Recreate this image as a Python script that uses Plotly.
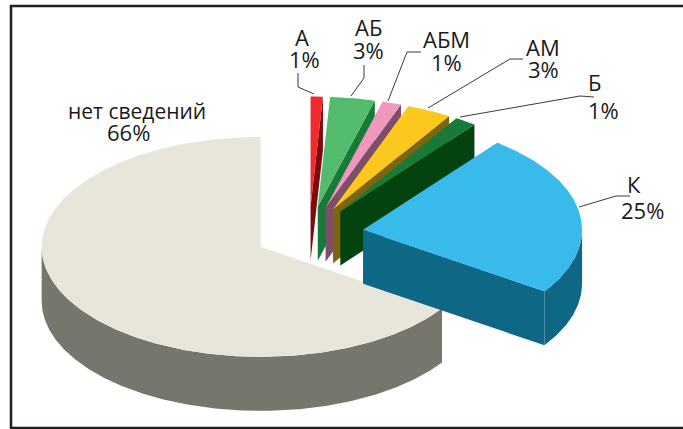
import numpy as np
import plotly.graph_objects as go

categories = ["А", "АБ", "АБМ", "АМ", "Б", "К", "нет сведений"]
values = [0.9, 3.3, 1.4, 3.3, 1.6, 24.0, 65.6]
percent_labels = ["1%", "3%", "1%", "3%", "1%", "25%", "66%"]

top_colors = ["#f02a2e", "#53bb6c", "#ef97bc", "#fcc81e", "#177a38", "#38bbea", "#e8e6da"]
side_colors = ["#7d0a0e", "#177a38", "#7e4d68", "#7d650d", "#04420f", "#0e6785", "#76766c"]

# pie geometry in page pixels
CX, CY = 309.0, 234.0
RX, RY = 219.0, 110.0
DEPTH = 54.0
EXPLODE = 0.25

FONT = dict(family="Open Sans, Liberation Sans, sans-serif", size=22, color="#1a1a1a")
FONT_LONG = dict(family="Open Sans, Liberation Sans, sans-serif", size=21, color="#1a1a1a")

total = sum(values)
cum = np.cumsum([0] + values) / total * 360.0


def rim(cx, cy, a0, a1):
    t = np.radians(np.linspace(a0, a1, max(int(abs(a1 - a0) * 2), 2)))
    return cx + RX * np.sin(t), cy - RY * np.cos(t)


fig = go.Figure()


def poly(x, y, color, name):
    fig.add_trace(go.Scatter(x=x, y=y, mode="lines", fill="toself", fillcolor=color,
                             line=dict(width=0, color=color), name=name,
                             hoverinfo="name", showlegend=False))


order = [6, 0, 1, 2, 3, 4, 5]
for i in order:
    a0, a1 = cum[i], cum[i + 1]
    mid = np.radians((a0 + a1) / 2)
    ax = CX + EXPLODE * RX * np.sin(mid)
    ay = CY - EXPLODE * RY * np.cos(mid)
    rx_, ry_ = rim(ax, ay, a0, a1)
    # cut face at the end angle, visible when the end lies in the right half
    if a1 < 180:
        ex, ey = rx_[-1], ry_[-1]
        poly([ax, ex, ex, ax, ax], [ay, ey, ey + DEPTH, ay + DEPTH, ay], side_colors[i], categories[i])
    # outer wall of the front part of the rim
    w0, w1 = max(a0, 90.0), min(a1, 270.0)
    if w1 > w0:
        wx, wy = rim(ax, ay, w0, w1)
        poly(np.r_[wx, wx[::-1]], np.r_[wy, wy[::-1] + DEPTH], side_colors[i], categories[i])
    poly(np.r_[ax, rx_, ax], np.r_[ay, ry_, ay], top_colors[i], categories[i])

# label centre positions (name line, percent line), page pixels
name_pos = [(302, 37), (368, 27), (446, 39), (543, 47), (594, 82), (634, 184), (137, 111)]
pct_pos = [(304, 59), (368, 50), (446, 62), (543, 69), (603, 110), (642, 210), (128, 132)]
for k, (name, pct, p, q) in enumerate(zip(categories, percent_labels, name_pos, pct_pos)):
    fig.add_annotation(x=p[0], y=p[1], text=name, showarrow=False, font=FONT_LONG if k == 6 else FONT,
                       xanchor="center", yanchor="middle")
    fig.add_annotation(x=q[0], y=q[1], text=pct, showarrow=False, font=FONT, xanchor="center", yanchor="middle")

leaders = [
    "M298,73 L298,87 L314,94",
    "M364,65 L364,78 L351,96",
    "M421,52 L407,52 L388,101",
    "M523,59 L510,59 L428,108",
    "M594,97 L580,96 L460,117",
    "M630,196 L616,196 L579,207",
]
shapes = [dict(type="path", path=p, xref="x", yref="y", line=dict(color="#3a3a3a", width=1)) for p in leaders]
shapes.append(dict(type="path", path="M690,6 L11,6 L11,428 L690,428", xref="x", yref="y",
                   line=dict(color="#231f20", width=2.5)))

fig.update_layout(
    width=683, height=429, margin=dict(l=0, r=0, t=0, b=0, pad=0),
    paper_bgcolor="white", plot_bgcolor="white", showlegend=False, shapes=shapes,
    xaxis=dict(range=[0, 683], visible=False, fixedrange=True),
    yaxis=dict(range=[429, 0], visible=False, fixedrange=True),
)
fig.write_html("out.html", config=dict(displayModeBar=False),
               post_script="document.body.style.margin='0';document.documentElement.style.overflow='hidden';")
